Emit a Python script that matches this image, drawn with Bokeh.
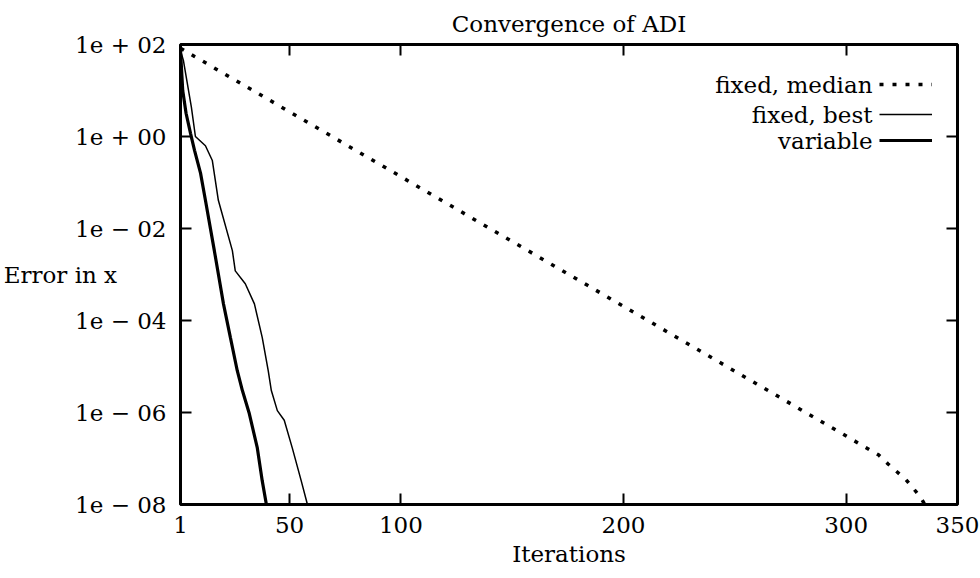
from bokeh.plotting import figure
from bokeh.models import (FixedTicker, CustomJSTickFormatter, LinearAxis, LogAxis,
                          Label, Legend, LegendItem, Range1d)
from bokeh.embed import file_html
from bokeh.resources import INLINE

# ---------------- data ----------------
median_iter = [1, 7.3, 314.5, 318.8, 326.8, 333.4, 335.3]
median_err = [83, 55, 1.2e-7, 7.6e-8, 3.5e-8, 1.45e-8, 1.0e-8]

best_iter = [1, 2.3, 5.9, 7.7, 12.2, 15.3, 18, 24.3, 25.6, 30.1, 34.2, 37.7,
             40.4, 41.8, 44.5, 47.6, 51.2, 55.2, 57.9]
best_err = [74, 45, 4.3, 1.0, 0.63, 0.30, 0.041, 3.3e-3, 1.2e-3, 6.3e-4, 2.3e-4,
            4.3e-5, 8.1e-6, 3.0e-6, 1.1e-6, 6.8e-7, 1.7e-7, 3.3e-8, 1.05e-8]

var_iter = [1, 2, 3.5, 5.5, 7.3, 10, 12.2, 16.2, 18.5, 20.3, 23.4, 26.5, 28.8,
            31.9, 35.5, 37.7, 39.5]
var_err = [74, 10, 3.2, 1.17, 0.50, 0.16, 0.041, 3.3e-3, 7.4e-4, 2.3e-4, 4.3e-5,
           8.1e-6, 3.0e-6, 9.5e-7, 1.7e-7, 3.3e-8, 1.05e-8]

xticks = [1, 50, 100, 200, 300, 350]
yticks = [1e2, 1e0, 1e-2, 1e-4, 1e-6, 1e-8]
ytick_labels = ["1e + 02", "1e + 00", "1e \u2212 02", "1e \u2212 04", "1e \u2212 06", "1e \u2212 08"]
series_names = ["fixed, median", "fixed, best", "variable"]

FONT = "DejaVu Serif"
FS = "23px"
FRAME_H = 460

p = figure(width=980, height=578, output_backend="svg", toolbar_location=None,
           y_axis_type="log", x_range=Range1d(1, 350), y_range=Range1d(1e-8, 1e2),
           min_border_left=178, min_border_right=23, min_border_top=44, min_border_bottom=74)
p.grid.visible = False
p.outline_line_color = "black"
p.outline_line_width = 3
p.background_fill_color = "white"
p.border_fill_color = "white"

p.title.text = "Convergence of ADI"
p.title.align = "center"
p.title.text_font = FONT
p.title.text_font_size = FS
p.title.text_font_style = "normal"
p.title.text_color = "black"
p.title.standoff = 15

fmt_y = CustomJSTickFormatter(args=dict(yt=yticks, ylab=ytick_labels), code="""
let best = 0, bd = 1e9;
for (let i = 0; i < yt.length; i++) {
  const d = Math.abs(Math.log10(yt[i]) - Math.log10(tick));
  if (d < bd) { bd = d; best = i; }
}
return ylab[best];
""")
fmt_blank = CustomJSTickFormatter(code="return '';")

def style(ax):
    ax.axis_line_color = None
    ax.major_tick_in = 11
    ax.major_tick_out = 0
    ax.major_tick_line_width = 2
    ax.major_tick_line_color = "black"
    ax.minor_tick_line_color = None
    ax.major_label_text_font = FONT
    ax.major_label_text_font_size = FS
    ax.major_label_text_color = "black"

xa = p.xaxis[0]
xa.ticker = FixedTicker(ticks=xticks)
style(xa)
xa.major_label_standoff = 12
xa.axis_label = "Iterations"
xa.axis_label_text_font = FONT
xa.axis_label_text_font_size = FS
xa.axis_label_text_font_style = "normal"
xa.axis_label_text_color = "black"
xa.axis_label_standoff = 5

ya = p.yaxis[0]
ya.ticker = FixedTicker(ticks=yticks)
ya.formatter = fmt_y
style(ya)
ya.major_label_standoff = 14
ya.axis_label = "Error in x"
ya.axis_label_orientation = "horizontal"
ya.axis_label_standoff = -45
ya.axis_label_text_font = FONT
ya.axis_label_text_font_size = FS
ya.axis_label_text_font_style = "normal"
ya.axis_label_text_color = "black"

top = LinearAxis(ticker=FixedTicker(ticks=xticks), formatter=fmt_blank)
style(top)
top.major_label_standoff = 0
p.add_layout(top, "above")
right = LogAxis(ticker=FixedTicker(ticks=yticks), formatter=fmt_blank)
style(right)
right.major_label_standoff = 0
p.add_layout(right, "right")

r_med = p.line(median_iter, median_err, line_color="black", line_width=3.5,
               line_dash="4 9", line_cap="butt")
r_best = p.line(best_iter, best_err, line_color="black", line_width=1.5)
r_var = p.line(var_iter, var_err, line_color="black", line_width=3.2)

# legend: one sample per row, texts right-aligned to their left
row_centers = [FRAME_H - 40, FRAME_H - 70, FRAME_H - 96]
for name, r, yc in zip(series_names, [r_med, r_best, r_var], row_centers):
    lg = Legend(items=[LegendItem(label=" ", renderers=[r])],
                location=(699, yc - 14), padding=0, margin=0, spacing=0,
                glyph_width=53, glyph_height=28, label_height=28, label_width=1,
                label_standoff=0, label_text_font=FONT, label_text_font_size="12px",
                border_line_color=None, background_fill_alpha=0)
    p.add_layout(lg)
    p.add_layout(Label(x=692, y=yc, x_units="screen", y_units="screen",
                       text=name, text_align="right", text_baseline="middle",
                       text_font=FONT, text_font_size=FS, text_color="black"))

open("out.html", "w").write(file_html(p, INLINE))
